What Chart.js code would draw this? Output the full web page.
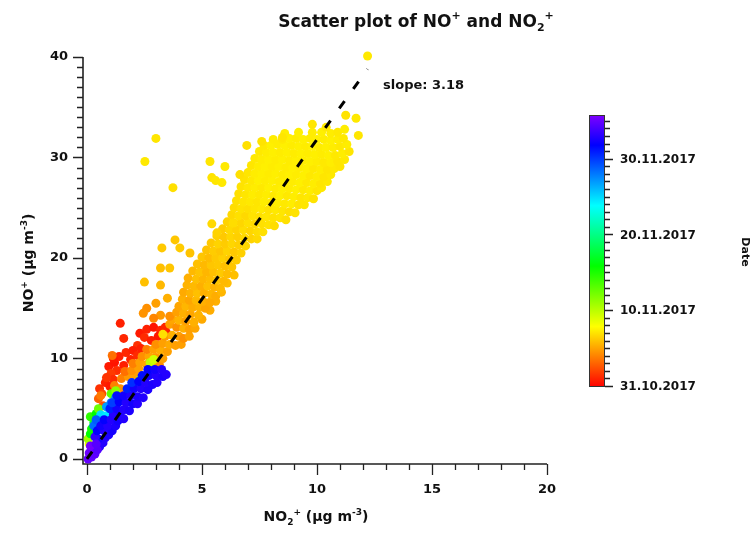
<!DOCTYPE html>
<html><head><meta charset="utf-8">
<script src="https://cdn.jsdelivr.net/npm/chart.js@4/dist/chart.umd.min.js"></script>
<style>html,body{margin:0;padding:0;background:#fff;}#wrap{width:753px;height:535px;}</style>
</head><body><div id="wrap"><canvas id="c" width="753" height="535"></canvas></div>
<script>
// ---- data: [NO2+ (µg m-3), NO+ (µg m-3), days after 31.10.2017] ----
const lateOctRed = [
[1.45,13.5,1.0],[1.6,12.0,1.2],
[2.3,12.5,0.8],[2.6,12.9,1.0],[2.9,13.1,0.6],[3.2,12.8,1.1],[3.45,12.6,0.9],[2.5,12.1,1.3],[2.8,11.8,0.9],[3.1,12.2,0.7],[2.2,11.3,1.5],[3.4,13.1,1.2],
[0.95,9.2,0.8],[1.2,9.6,0.6],[1.4,10.2,1.0],[1.7,10.6,1.2],[2.0,10.8,0.9],[1.3,8.8,1.4],[1.6,9.3,0.9],[1.9,9.9,1.1],[2.2,10.3,1.3],[1.05,8.5,1.8],[2.35,11.0,1.0],[1.15,10.0,0.7],
[0.55,7.0,1.5],[0.8,7.6,1.0],[1.0,7.2,0.8],[0.65,6.5,2.2],[1.15,7.9,1.3],[0.85,8.1,1.6],
[0.7,5.3,2.5],[0.5,6.0,3.0],[0.35,4.2,2.6]
];
const earlyNovOrange = [
[1.1,10.3,3.5],[1.2,7.3,4],[1.45,7.0,4.5],[0.6,6.3,3.8],
[1.5,8.0,4],[1.8,8.2,4.8],[2.05,8.4,5],
[1.65,8.7,3.5],[1.95,8.8,4.5],[2.25,9.0,5],
[2.0,9.5,4],[2.3,9.6,5],[2.6,9.4,5.2],[2.9,9.5,5],[3.15,9.4,4.5],
[2.4,10.2,4.5],[2.7,10.2,5.2],[3.0,10.1,4.8],[3.3,10.0,5],
[2.6,10.9,4],[2.9,10.9,5],[3.2,10.8,5.4],[3.5,10.7,5],
[3.0,11.4,4.5],[3.3,11.5,5],[3.6,11.4,5.3],[3.85,11.3,5],[4.1,11.4,5.0],
[3.4,12.2,4.8],[3.7,12.3,5.5],[4.0,12.2,5],[4.2,12.0,4.5],[4.45,12.2,5.1],
[3.6,13.4,5],[3.9,13.1,4.5],[4.2,13.0,5.5],[4.45,12.9,5],[4.7,13.0,5.2],
[3.7,13.9,5.2],[4.0,13.8,5.6],[4.3,13.7,5],[4.65,13.6,5.5],[5.0,13.9,5.3],
[3.6,14.2,4.5],[3.9,14.6,5],[4.2,14.5,5.5],[4.5,14.4,5.2],[4.85,14.3,5.6],[5.35,14.8,5.4],
[4.0,15.2,5.2],[4.3,15.2,5.7],[4.6,15.1,5.4],[4.9,15.1,5.6],[5.15,15.0,5.2],[5.6,15.7,5.5],
[4.15,15.9,5.5],[4.45,15.8,5.2],[4.75,15.8,5.8],[5.05,15.7,5.5],[5.35,15.6,5.3],
[4.2,16.6,5.3],[4.5,16.5,5.6],[4.8,16.5,6],[5.1,16.5,5.5],[5.4,16.4,5.7],[5.6,16.2,5.4],[5.85,16.6,5.7],
[4.35,17.3,5.6],[4.65,17.2,5.8],[4.95,17.2,5.5],[5.25,17.2,6],[5.55,17.1,5.6],[5.8,17.0,5.8],[6.1,17.5,5.9],
[4.4,18.0,5.5],[4.75,17.9,6],[5.05,17.9,5.7],[5.35,17.9,5.9],[5.65,17.8,6.2],[5.95,17.7,5.8],[6.4,18.3,6.0],
[4.6,18.7,5.8],[4.9,18.6,6.1],[5.2,18.6,5.7],[5.5,18.6,6],[5.8,18.5,6.3],[6.1,18.4,5.9],
[2.6,15.0,4.5],[3.0,15.5,5],[3.2,14.3,4.8],[2.9,14.0,4.2],[2.45,14.5,4.6],[3.5,16.0,5.5],[3.2,17.3,5.8],[2.5,17.6,6.0],[3.3,12.4,7.0]
];
const earlyNovYellow = [
[4.8,19.4,6.0],[5.1,19.3,5.8],[5.4,19.3,6.2],[5.7,19.3,6.3],[6.0,19.2,6.0],[6.3,19.1,6.2],
[5.0,20.1,6.2],[5.3,20.0,5.9],[5.6,20.0,6.3],[5.9,20.0,6.5],[6.2,19.9,6.2],[6.5,19.8,6.4],
[5.2,20.8,6.1],[5.5,20.7,6.4],[5.8,20.7,6.2],[6.1,20.7,6.6],[6.4,20.6,6.3],[6.7,20.5,6.5],
[5.4,21.5,6.3],[5.7,21.4,6.6],[6.0,21.4,6.4],[6.3,21.4,6.7],[6.6,21.3,6.5],[6.9,21.2,6.7],
[5.65,22.2,6.5],[5.95,22.1,6.3],[6.25,22.1,6.7],[6.55,22.1,6.5],[6.85,22.0,6.8],[7.15,21.9,6.6],[7.4,21.9,6.8],
[5.9,22.9,6.4],[6.2,22.8,6.8],[6.5,22.8,6.6],[6.8,22.8,6.9],[7.1,22.7,6.7],[7.4,22.6,6.9],[7.65,22.6,7.0],
[6.1,23.6,6.6],[6.4,23.5,6.9],[6.7,23.5,6.7],[7.0,23.5,7.0],[7.3,23.4,6.8],[7.6,23.4,7.0],[7.9,23.3,7.1],[8.15,23.2,6.9],
[6.3,24.3,6.8],[6.6,24.2,7.0],[6.9,24.2,6.8],[7.2,24.2,7.1],[7.5,24.1,7.0],[7.8,24.1,7.2],[8.1,24.0,7.1],[8.4,24.0,7.2],[8.65,23.8,7.0],
[6.4,25.0,6.9],[6.7,24.9,7.1],[7.0,24.9,7.0],[7.3,24.9,7.2],[7.6,24.9,7.3],[7.9,24.8,7.1],[8.2,24.8,7.3],[8.5,24.7,7.2],[8.8,24.6,7.0],[9.05,24.5,7.1],
[6.5,25.7,7.0],[6.8,25.6,7.2],[7.1,25.6,7.3],[7.4,25.6,7.2],[7.7,25.6,7.4],[8.0,25.5,7.3],[8.3,25.5,7.4],[8.6,25.4,7.3],[8.9,25.4,7.4],[9.2,25.3,7.1],[9.45,25.3,7.2],
[6.6,26.4,7.0],[6.9,26.3,7.2],[7.2,26.3,7.4],[7.5,26.3,7.3],[7.8,26.3,7.4],[8.1,26.2,7.3],[8.4,26.2,7.5],[8.7,26.2,7.3],[9.0,26.1,7.4],[9.3,26.0,7.2],[9.6,26.0,7.3],[9.85,25.9,7.1],
[6.7,27.1,7.1],[7.0,27.0,7.3],[7.3,27.0,7.4],[7.6,27.0,7.3],[7.9,27.0,7.5],[8.2,26.9,7.4],[8.5,26.9,7.5],[8.8,26.9,7.4],[9.1,26.8,7.5],[9.4,26.8,7.3],[9.7,26.7,7.4],[10.0,26.7,7.2],[10.2,27.0,7.3],
[6.85,27.8,7.1],[7.15,27.7,7.3],[7.45,27.7,7.5],[7.75,27.7,7.4],[8.05,27.7,7.5],[8.35,27.6,7.4],[8.65,27.6,7.5],[8.95,27.6,7.4],[9.25,27.5,7.5],[9.55,27.5,7.3],[9.85,27.4,7.4],[10.15,27.4,7.2],[10.45,27.6,7.3],
[7.0,28.5,7.2],[7.3,28.4,7.4],[7.6,28.4,7.5],[7.9,28.4,7.4],[8.2,28.4,7.5],[8.5,28.3,7.4],[8.8,28.3,7.5],[9.1,28.3,7.4],[9.4,28.2,7.5],[9.7,28.2,7.3],[10.0,28.1,7.4],[10.3,28.1,7.2],[10.6,28.3,7.3],
[7.15,29.2,7.2],[7.45,29.1,7.4],[7.75,29.1,7.5],[8.05,29.1,7.4],[8.35,29.1,7.5],[8.65,29.0,7.4],[8.95,29.0,7.5],[9.25,29.0,7.4],[9.55,28.9,7.5],[9.85,28.9,7.3],[10.15,28.8,7.4],[10.45,28.8,7.2],[10.75,28.9,7.3],[11.0,29.1,7.2],
[7.3,29.9,7.3],[7.6,29.8,7.4],[7.9,29.8,7.5],[8.2,29.8,7.4],[8.5,29.8,7.5],[8.8,29.7,7.4],[9.1,29.7,7.5],[9.4,29.7,7.4],[9.7,29.6,7.5],[10.0,29.6,7.4],[10.3,29.5,7.3],[10.6,29.5,7.4],[10.9,29.6,7.2],[11.2,29.8,7.3],
[7.5,30.6,7.3],[7.8,30.5,7.4],[8.1,30.5,7.5],[8.4,30.5,7.4],[8.7,30.5,7.5],[9.0,30.4,7.4],[9.3,30.4,7.5],[9.6,30.4,7.4],[9.9,30.3,7.5],[10.2,30.3,7.4],[10.5,30.2,7.5],[10.8,30.2,7.3],[11.1,30.4,7.4],[11.4,30.6,7.2],
[7.7,31.2,7.3],[8.0,31.2,7.5],[8.3,31.3,7.4],[8.6,31.2,7.5],[8.9,31.2,7.4],[9.2,31.1,7.5],[9.5,31.1,7.4],[9.8,31.1,7.5],[10.1,31.0,7.4],[10.4,31.0,7.5],[10.7,31.0,7.4],[11.0,31.1,7.3],[11.3,31.3,7.4],
[8.1,31.8,7.4],[8.5,31.8,7.3],[8.8,31.9,7.5],[9.1,31.9,7.4],[9.4,31.8,7.5],[9.7,31.9,7.4],[10.0,31.8,7.5],[10.3,31.8,7.4],[10.6,31.7,7.5],[10.9,31.8,7.4],[11.15,31.9,7.3],
[8.6,32.4,7.4],[9.2,32.5,7.5],[9.8,32.5,7.4],[10.2,32.5,7.5],[10.6,32.4,7.4],[10.9,32.5,7.3],
[9.8,33.3,7.2],[11.25,34.2,7.1],[11.7,33.9,7.3],[11.2,32.8,7.4],[12.2,40.1,7.3],[10.4,33.0,7.3],[11.8,32.2,7.2],[6.95,31.2,7.0],[7.6,31.6,7.1],[8.5,32.0,7.2],
[3.0,31.9,7.2],[2.52,29.6,7.3],[3.74,27.0,7.0],[5.35,29.6,7.2],[6.0,29.1,7.3],[5.43,28.0,7.1],[5.6,27.7,7.2],[5.87,27.5,7.3],[6.65,28.3,7.0],
[3.26,21.0,6.3],[3.83,21.8,6.2],[4.04,21.0,6.4],[4.48,20.5,6.1],[3.2,19.0,6.0],[3.6,19.0,6.2],[5.43,23.4,6.8],[5.65,22.5,6.6],[6.35,23.5,6.9]
];
const midNovGreen = [
[0.1,1.5,8.5],[0.05,2.0,11],[0.15,2.5,16],[0.2,3.0,15.5],[0.3,3.6,17.5],[0.15,4.2,14.5],[0.4,4.5,16],[0.5,5.0,12.5],
[1.05,6.5,13],[1.25,6.8,11.5],[2.3,7.9,11],[2.75,9.6,10],[2.9,9.9,9.5]
];
const lateNovCyan = [
[0.6,4.4,25],[0.85,4.3,24.5],[0.7,3.7,26.5],[0.85,5.2,27],[1.05,5.6,28],[1.25,6.1,27.5],[1.85,6.9,25],[2.05,7.3,26],[0.3,3.3,28.5],[0.4,3.9,29]
];
const lateNovBlue = [
[0.55,1.2,33],[0.7,1.6,33],[0.5,2.0,32.5],
[0.35,2.2,33.5],[0.8,2.1,33],[0.95,2.4,32.8],
[0.45,2.8,32],[0.75,2.8,33],[1.1,2.8,32.5],
[0.6,3.3,32.5],[0.9,3.3,33],[1.25,3.3,32.8],
[0.75,3.9,32],[1.05,3.9,33],[1.35,3.8,32.5],
[1.15,4.4,33],[1.45,4.3,32.5],[1.6,4.0,33],
[1.0,5.0,31],[1.3,5.0,32.5],[1.6,4.9,33],[1.85,4.8,32.8],
[1.1,5.6,30],[1.4,5.7,32],[1.7,5.6,33],[2.0,5.5,32.5],[2.2,5.5,33],
[1.3,6.3,31.5],[1.6,6.3,32.5],[1.9,6.3,33],[2.2,6.2,32.8],[2.45,6.1,33],
[1.75,7.0,31],[2.05,7.0,32.5],[2.35,7.0,33],[2.65,6.9,32.8],
[1.95,7.6,30.5],[2.25,7.7,32],[2.55,7.6,33],[2.85,7.4,32.8],[3.05,7.6,33],
[2.4,8.3,31.5],[2.7,8.3,32.5],[3.0,8.3,33],[3.3,8.2,32.8],[3.45,8.4,33],
[2.65,8.9,32],[2.95,8.9,32.5],[3.25,8.9,33]
];
const earlyDecViolet = [
[0.05,0.0,35],[0.2,0.2,35],[0.1,0.6,35.3],[0.35,0.5,34.8],[0.25,1.0,35],[0.45,0.9,34.5],[0.15,1.3,35.5],[0.4,1.5,34.6]
];
const fitLineNO2 = [0, 12.2];
const fitLineNO = [0, 38.8];
const fitSlope = 3.18;
const xTickLabels = ['0','5','10','15','20'];
const yTickLabels = ['0','10','20','30','40'];
const colorbarDays = [0, 10, 20, 30];
const colorbarLabels = ['31.10.2017','10.11.2017','20.11.2017','30.11.2017'];
const colorbarMaxDay = 35.9;

// ---- styling ----
const FONT = 'DejaVu Sans';
const TXT = '#111';
function dayColor(d){ const t = Math.max(0, Math.min(1, d / colorbarMaxDay)); return 'hsl(' + (270 * t).toFixed(1) + ',100%,50%)'; }

const allPoints = [].concat(lateOctRed, earlyNovOrange, earlyNovYellow, midNovGreen, lateNovCyan, lateNovBlue, earlyDecViolet);
const scatterData = allPoints.map(p => ({x: p[0], y: p[1]}));
const scatterColors = allPoints.map(p => dayColor(p[2]));

function drawRich(ctx, parts, x, y, size, align){
  const small = Math.round(size * 0.66);
  let w = 0;
  const segs = parts.map(p => {
    const sz = p[1] ? small : size;
    ctx.font = 'bold ' + sz + 'px "' + FONT + '"';
    const m = ctx.measureText(p[0]).width;
    w += m;
    return {t: p[0], mode: p[1] || 0, sz, m};
  });
  let cx = align === 'center' ? x - w / 2 : x;
  segs.forEach(s => {
    ctx.font = 'bold ' + s.sz + 'px "' + FONT + '"';
    const dy = s.mode === 1 ? -size * 0.45 : (s.mode === -1 ? size * 0.25 : 0);
    ctx.fillText(s.t, cx, y + dy);
    cx += s.m;
  });
}

const decor = {
  id: 'decor',
  beforeDatasetsDraw(chart){
    const ctx = chart.ctx, xs = chart.scales.x, ys = chart.scales.y, a = chart.chartArea;
    ctx.save();
    ctx.strokeStyle = '#222'; ctx.lineWidth = 1.6;
    ctx.beginPath();
    ctx.moveTo(a.left, a.top); ctx.lineTo(a.left, a.bottom); ctx.lineTo(a.right, a.bottom);
    ctx.stroke();
    ctx.lineWidth = 1.3;
    ctx.beginPath();
    xs.ticks.forEach(t => {
      if (!Number.isInteger(t.value)) return;
      const px = Math.round(xs.getPixelForValue(t.value)) + 0.5;
      const len = t.value % 5 === 0 ? 11 : 6;
      ctx.moveTo(px, a.bottom); ctx.lineTo(px, a.bottom + len);
    });
    ys.ticks.forEach(t => {
      if (!Number.isInteger(t.value)) return;
      const py = Math.round(ys.getPixelForValue(t.value)) + 0.5;
      const len = t.value % 10 === 0 ? 10 : 6;
      ctx.moveTo(a.left, py); ctx.lineTo(a.left - len, py);
    });
    ctx.stroke();
    ctx.restore();
  },
  afterDraw(chart){
    const ctx = chart.ctx;
    ctx.save();
    ctx.fillStyle = TXT;
    ctx.textBaseline = 'alphabetic';
    // title
    drawRich(ctx, [['Scatter plot of NO'],['+',1],[' and NO'],['2',-1],['+',1]], 416, 27, 17, 'center');
    // x title
    drawRich(ctx, [['NO'],['2',-1],['+',1],[' (µg m'],['-3',1],[')']], 316, 521, 14, 'center');
    // y title
    ctx.save(); ctx.translate(33, 263); ctx.rotate(-Math.PI / 2);
    drawRich(ctx, [['NO'],['+',1],[' (µg m'],['-3',1],[')']], 0, 0, 14, 'center');
    ctx.restore();
    // slope
    ctx.font = 'bold 13px "' + FONT + '"';
    ctx.fillText('slope: ' + fitSlope.toFixed(2), 383, 89);
    // colour bar
    const cb = {l: 589, r: 605, t: 115, b: 387};
    const dy = d => cb.b - (d / colorbarMaxDay) * (cb.b - cb.t);
    const g = ctx.createLinearGradient(0, cb.b, 0, cb.t);
    for (let i = 0; i <= 36; i++) g.addColorStop(i / 36, dayColor(colorbarMaxDay * i / 36));
    ctx.fillStyle = g;
    ctx.fillRect(cb.l, cb.t, cb.r - cb.l, cb.b - cb.t);
    ctx.strokeStyle = '#333'; ctx.lineWidth = 1;
    ctx.strokeRect(cb.l + 0.5, cb.t + 0.5, cb.r - cb.l - 1, cb.b - cb.t - 1);
    ctx.beginPath();
    for (let d = 0; d <= 35; d++){
      const py = Math.round(dy(d)) - 0.5;
      const len = d % 10 === 0 ? 8 : 5;
      ctx.moveTo(cb.r, py); ctx.lineTo(cb.r + len, py);
    }
    ctx.lineWidth = 1.3; ctx.strokeStyle = '#222'; ctx.stroke();
    ctx.fillStyle = TXT; ctx.font = 'bold 12px "' + FONT + '"';
    ctx.textBaseline = 'middle'; ctx.textAlign = 'left';
    colorbarDays.forEach((d, i) => ctx.fillText(colorbarLabels[i], 620, dy(d)));
    // colour bar title
    ctx.save(); ctx.translate(745, 252); ctx.rotate(Math.PI / 2);
    ctx.textAlign = 'center'; ctx.textBaseline = 'middle';
    ctx.font = 'bold 11px "' + FONT + '"';
    ctx.fillText('Date', 0, 0);
    ctx.restore();
    ctx.restore();
  }
};

const tickFont = {family: FONT, size: 13, weight: 'bold'};
new Chart(document.getElementById('c'), {
  type: 'scatter',
  data: {
    datasets: [
      {type: 'line', data: fitLineNO2.map((v, i) => ({x: v, y: fitLineNO[i]})), borderColor: '#000', borderWidth: 3, borderDash: [9, 15], pointRadius: 0, fill: false, order: 0, clip: false},
      {data: scatterData, pointBackgroundColor: scatterColors, pointBorderWidth: 0, pointRadius: 4.5, pointHoverRadius: 4.5, showLine: false, order: 1, clip: false}
    ]
  },
  options: {
    responsive: false, animation: false, events: [], devicePixelRatio: 1,
    layout: {padding: {top: 57, right: 206, bottom: 0, left: 0}},
    plugins: {legend: {display: false}, tooltip: {enabled: false}, title: {display: false}},
    scales: {
      x: {type: 'linear', min: -0.17, max: 20,
        grid: {display: false, drawTicks: true, tickLength: 11}, border: {display: false},
        ticks: {stepSize: 1, includeBounds: false, autoSkip: false, maxRotation: 0, padding: 7, color: TXT, font: tickFont,
          callback: v => { const s = String(v); return xTickLabels.includes(s) ? s : ''; }},
        afterFit: s => { s.height = 71; }},
      y: {type: 'linear', min: -0.5, max: 40,
        grid: {display: false, drawTicks: true, tickLength: 10}, border: {display: false},
        ticks: {stepSize: 1, includeBounds: false, autoSkip: false, padding: 5, color: TXT, font: tickFont,
          callback: v => { const s = String(v); return yTickLabels.includes(s) ? s : ''; }},
        afterFit: s => { s.height = s.height; s.width = 83; }}
    }
  },
  plugins: [decor]
});
</script></body></html>
